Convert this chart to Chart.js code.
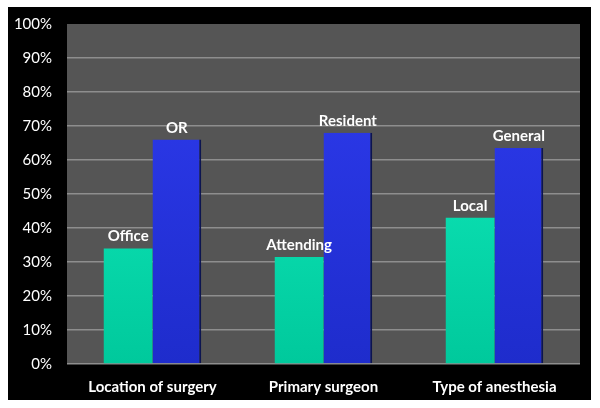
<!DOCTYPE html>
<html>
<head>
<meta charset="utf-8">
<script src="https://cdn.jsdelivr.net/npm/chart.js@4.4.0/dist/chart.umd.min.js"></script>
<style>
  body { margin: 0; background: #fff; }
  canvas { display: block; }
</style>
</head>
<body>
<canvas id="chart" width="600" height="408"></canvas>
<script>
const categories = ["Location of surgery", "Primary surgeon", "Type of anesthesia"];
const firstLabels = ["Office", "Attending", "Local"];
const secondLabels = ["OR", "Resident", "General"];
const firstValues = [34, 31.5, 43];
const secondValues = [66, 68, 63.5];
const yTicks = [0, 10, 20, 30, 40, 50, 60, 70, 80, 90, 100];

function gradient(ctx, top, bottom) {
  const area = ctx.chart.chartArea;
  if (!area) return bottom;
  const g = ctx.chart.ctx.createLinearGradient(0, area.top, 0, area.bottom);
  g.addColorStop(0, top);
  g.addColorStop(1, bottom);
  return g;
}

const backdrop = {
  id: 'backdrop',
  beforeDraw(chart) {
    const c = chart.ctx, a = chart.chartArea;
    c.save();
    c.fillStyle = '#ffffff';
    c.fillRect(0, 0, chart.width, chart.height);
    c.fillStyle = '#000000';
    c.fillRect(8, 7, 583, 393);
    c.fillStyle = '#555555';
    c.fillRect(a.left, a.top, a.right - a.left, a.bottom - a.top);
    c.restore();
  }
};

const barLabels = {
  id: 'barLabels',
  afterDatasetsDraw(chart) {
    const c = chart.ctx;
    const texts = [firstLabels, secondLabels];
    c.save();
    c.fillStyle = '#ffffff';
    c.font = 'bold 15px Lato';
    c.textAlign = 'center';
    c.textBaseline = 'alphabetic';
    chart.data.datasets.forEach((ds, i) => {
      chart.getDatasetMeta(i).data.forEach((bar, j) => {
        c.fillText(texts[i][j], bar.x, bar.y - 7);
      });
    });
    c.restore();
  }
};

function createChart() {
  new Chart(document.getElementById("chart"), {
    type: 'bar',
    data: {
      labels: categories,
      datasets: [
        {
          data: firstValues,
          backgroundColor: ctx => gradient(ctx, '#14f2c4', '#00c99c'),
          borderWidth: 0,
          categoryPercentage: 0.57,
          barPercentage: 1.0
        },
        {
          data: secondValues,
          backgroundColor: ctx => gradient(ctx, '#2f3cf0', '#1e2ccc'),
          borderColor: '#0c1450',
          borderWidth: { right: 2, left: 0, top: 0, bottom: 0 },
          borderSkipped: false,
          categoryPercentage: 0.57,
          barPercentage: 1.0
        }
      ]
    },
    options: {
      responsive: false,
      devicePixelRatio: 1,
      animation: false,
      layout: { padding: { left: 0, top: 21, right: 20, bottom: 0 } },
      plugins: {
        legend: { display: false },
        tooltip: { enabled: false }
      },
      scales: {
        x: {
          grid: { display: false },
          border: { display: false },
          ticks: {
            color: '#ffffff',
            font: { family: 'Lato', size: 15, weight: 'bold' },
            padding: 6
          },
          afterFit(scale) { scale.height = 44; }
        },
        y: {
          min: 0,
          max: 100,
          afterBuildTicks(scale) { scale.ticks = yTicks.map(v => ({ value: v })); },
          grid: {
            color: ctx => ctx.tick && ctx.tick.value === 100 ? 'rgba(0,0,0,0)' : '#8e8e8e',
            lineWidth: 1.5,
            drawTicks: false
          },
          border: { display: false },
          ticks: {
            color: '#ffffff',
            font: { family: 'Lato', size: 15 },
            padding: 15,
            callback: v => v + '%'
          },
          afterFit(scale) { scale.width = 67; }
        }
      }
    },
    plugins: [backdrop, barLabels]
  });
}

document.addEventListener('DOMContentLoaded', createChart);
</script>
</body>
</html>
